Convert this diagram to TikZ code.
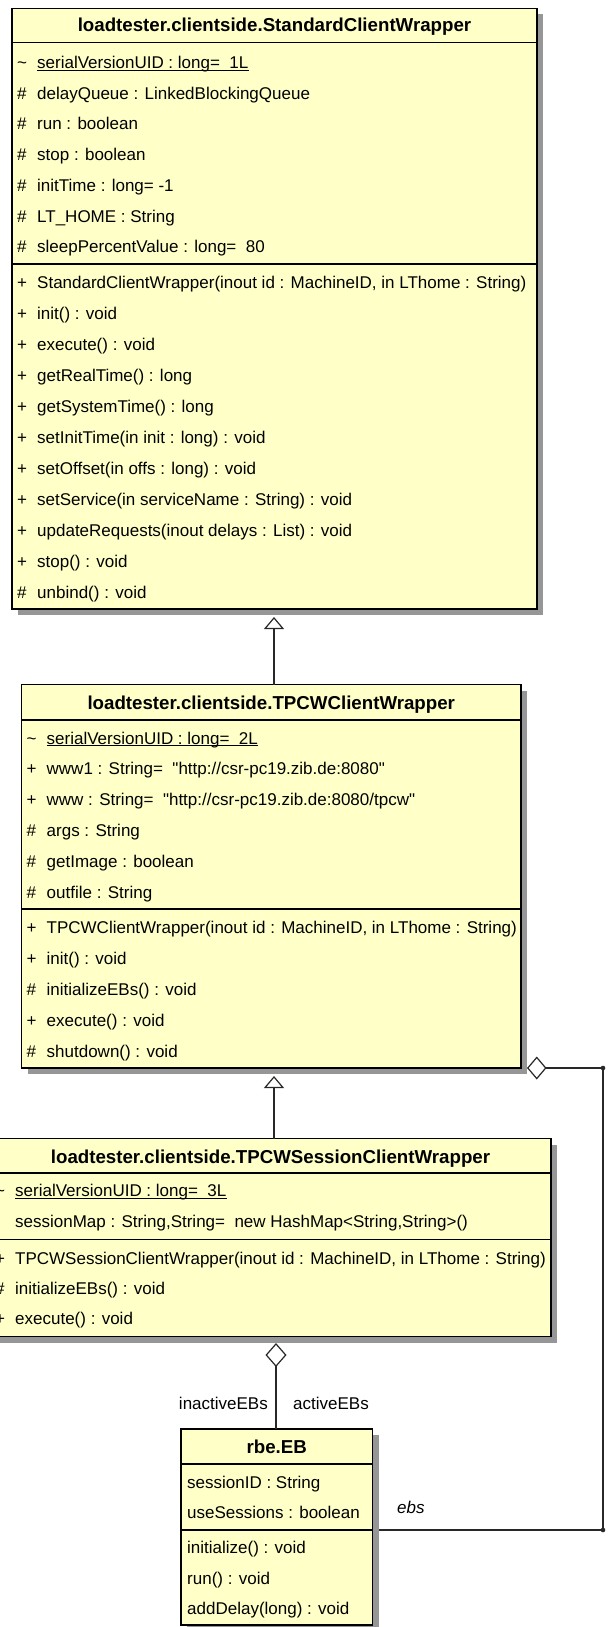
\documentclass[tikz,border=0pt]{standalone}
\usepackage{fontspec}
\setmainfont{Liberation Sans}[Ligatures=TeXOff]
\usetikzlibrary{arrows.meta}
\definecolor{classfill}{RGB}{255,255,200}
\definecolor{classshadow}{RGB}{150,150,150}
\definecolor{wire}{RGB}{40,40,40}
% one attribute/operation line: name, box left edge, baseline, visibility, text
\newcommand\umlrow[5]{%
  \node[vismark] (#1-v) at (#2+5,#3) {#4};
  \node[member] (#1) at (#2+25,#3) {#5};}
% underline for static members
\newcommand\umlstatic[1]{%
  \draw[line width=1.1pt] ([yshift=-1.6pt]#1.base west) -- ([yshift=-1.6pt]#1.base east);}
\begin{document}
\begin{tikzpicture}[x=1pt,y=-1pt,
  classbox/.style={draw=black,line width=1.4pt,fill=classfill,inner sep=0pt,outer sep=0pt,anchor=north west},
  classshade/.style={fill=classshadow},
  compsep/.style={line width=1.4pt},
  classname/.style={font=\fontsize{18.7}{20}\selectfont\bfseries,anchor=base,inner sep=0pt},
  member/.style={font=\fontsize{17}{19}\selectfont,anchor=base west,inner sep=0pt},
  vismark/.style={member},
  conn/.style={draw=wire,line width=1.2pt},
  generalize/.style={conn,-{Triangle[length=12pt,width=20pt,fill=white]}},
  aggregate/.style={conn,-{Diamond[length=24pt,width=21pt,fill=white]}},
  aggregateside/.style={conn,-{Diamond[length=19.5pt,width=23pt,fill=white]}}]

\fill[white] (0,0) rectangle (611,1627);
\useasboundingbox (0,0) rectangle (611,1627);

% ---------- shadows ----------
\fill[classshade] (18,14.5) rectangle (543,615);
\fill[classshade] (27.5,690.5) rectangle (527,1074);
\fill[classshade] (-4,1144.5) rectangle (557,1342.5);
\fill[classshade] (187,1435) rectangle (378.5,1631);

% ---------- class frames ----------
\node[classbox,minimum width=525pt,minimum height=600.5pt] (scw) at (12,8.5) {};
\node[classbox,minimum width=499.5pt,minimum height=383.5pt] (tcw) at (21.5,684.5) {};
\node[classbox,minimum width=561pt,minimum height=198pt] (tcws) at (-10,1138.5) {};
\node[classbox,minimum width=191.5pt,minimum height=196pt] (eb) at (181,1429) {};

% compartment separators
\draw[compsep] (12,42.5) -- (537,42.5);
\draw[compsep] (12,264) -- (537,264);
\draw[compsep] (21.5,720) -- (521,720);
\draw[compsep] (21.5,909) -- (521,909);
\draw[compsep] (-10,1173) -- (551,1173);
\draw[compsep] (-10,1239.5) -- (551,1239.5);
\draw[compsep] (181,1464) -- (372.5,1464);
\draw[compsep] (181,1530) -- (372.5,1530);

% ---------- StandardClientWrapper ----------
\node[classname] (scw-name) at (274.5,31.5) {loadtester.clientside.StandardClientWrapper};
\umlrow{scw-a1}{12}{68.5}{\textasciitilde}{serialVersionUID : long=\ \ 1L}
\umlstatic{scw-a1}
\umlrow{scw-a2}{12}{99.2}{\#}{delayQueue : LinkedBlockingQueue}
\umlrow{scw-a3}{12}{129.9}{\#}{run : boolean}
\umlrow{scw-a4}{12}{160.6}{\#}{stop : boolean}
\umlrow{scw-a5}{12}{191.3}{\#}{initTime : long= -1}
\umlrow{scw-a6}{12}{222}{\#}{LT\_HOME : String}
\umlrow{scw-a7}{12}{252.7}{\#}{sleepPercentValue : long=\ \ 80}
\umlrow{scw-o1}{12}{288}{+}{StandardClientWrapper(inout id : MachineID, in LThome : String)}
\umlrow{scw-o2}{12}{319}{+}{init() : void}
\umlrow{scw-o3}{12}{350}{+}{execute() : void}
\umlrow{scw-o4}{12}{381}{+}{getRealTime() : long}
\umlrow{scw-o5}{12}{412}{+}{getSystemTime() : long}
\umlrow{scw-o6}{12}{443}{+}{setInitTime(in init : long) : void}
\umlrow{scw-o7}{12}{474}{+}{setOffset(in offs : long) : void}
\umlrow{scw-o8}{12}{505}{+}{setService(in serviceName : String) : void}
\umlrow{scw-o9}{12}{536}{+}{updateRequests(inout delays : List) : void}
\umlrow{scw-o10}{12}{567}{+}{stop() : void}
\umlrow{scw-o11}{12}{598}{\#}{unbind() : void}

% ---------- TPCWClientWrapper ----------
\node[classname] (tcw-name) at (271.25,709) {loadtester.clientside.TPCWClientWrapper};
\umlrow{tcw-a1}{21.5}{744}{\textasciitilde}{serialVersionUID : long=\ \ 2L}
\umlstatic{tcw-a1}
\umlrow{tcw-a2}{21.5}{774.8}{+}{www1 : String=\ \ "http://csr-pc19.zib.de:8080"}
\umlrow{tcw-a3}{21.5}{805.6}{+}{www : String=\ \ "http://csr-pc19.zib.de:8080/tpcw"}
\umlrow{tcw-a4}{21.5}{836.4}{\#}{args : String}
\umlrow{tcw-a5}{21.5}{867.2}{\#}{getImage : boolean}
\umlrow{tcw-a6}{21.5}{898}{\#}{outfile : String}
\umlrow{tcw-o1}{21.5}{933}{+}{TPCWClientWrapper(inout id : MachineID, in LThome : String)}
\umlrow{tcw-o2}{21.5}{964}{+}{init() : void}
\umlrow{tcw-o3}{21.5}{995}{\#}{initializeEBs() : void}
\umlrow{tcw-o4}{21.5}{1026}{+}{execute() : void}
\umlrow{tcw-o5}{21.5}{1057}{\#}{shutdown() : void}

% ---------- TPCWSessionClientWrapper ----------
\node[classname] (tcws-name) at (270.5,1163) {loadtester.clientside.TPCWSessionClientWrapper};
\umlrow{tcws-a1}{-10}{1196.5}{\textasciitilde}{serialVersionUID : long=\ \ 3L}
\umlstatic{tcws-a1}
\umlrow{tcws-a2}{-10}{1227.5}{-}{sessionMap : String,String=\ \ new HashMap<String,String>()}
\umlrow{tcws-o1}{-10}{1264}{+}{TPCWSessionClientWrapper(inout id : MachineID, in LThome : String)}
\umlrow{tcws-o2}{-10}{1294}{\#}{initializeEBs() : void}
\umlrow{tcws-o3}{-10}{1324}{+}{execute() : void}

% ---------- rbe.EB ----------
\node[classname] (eb-name) at (276.75,1453.5) {rbe.EB};
\node[member] (eb-a1) at (187,1488) {sessionID : String};
\node[member] (eb-a2) at (187,1518) {useSessions : boolean};
\node[member] (eb-o1) at (187,1553.5) {initialize() : void};
\node[member] (eb-o2) at (187,1584) {run() : void};
\node[member] (eb-o3) at (187,1614.5) {addDelay(long) : void};

% ---------- relations ----------
\coordinate (axisA) at (274,0);
\coordinate (axisB) at (276,0);
\coordinate (bendLow) at (603,1530);
\coordinate (bendHigh) at (603,1068);

\draw[generalize,shorten >=8pt] (tcw.north -| axisA) -- (scw.south -| axisA);
\draw[generalize,shorten >=8pt] (tcws.north -| axisA) -- (tcw.south -| axisA);
\draw[aggregate,shorten >=6.5pt] (eb.north -| axisB) -- (tcws.south -| axisB);
\draw[aggregateside,shorten <=6pt,shorten >=6pt]
  (eb.east |- bendLow) -- (bendLow) -- (bendHigh) -- (tcw.south east);
\fill[wire] (bendLow) circle[radius=2.3pt];
\fill[wire] (bendHigh) circle[radius=2.3pt];

\node[member,anchor=base east] (role-inactive) at (268,1409) {inactiveEBs};
\node[member] (role-active) at (293,1409) {activeEBs};
\node[member,font=\fontsize{17}{19}\selectfont\itshape] (role-ebs) at (397,1513) {ebs};
\end{tikzpicture}
\end{document}
